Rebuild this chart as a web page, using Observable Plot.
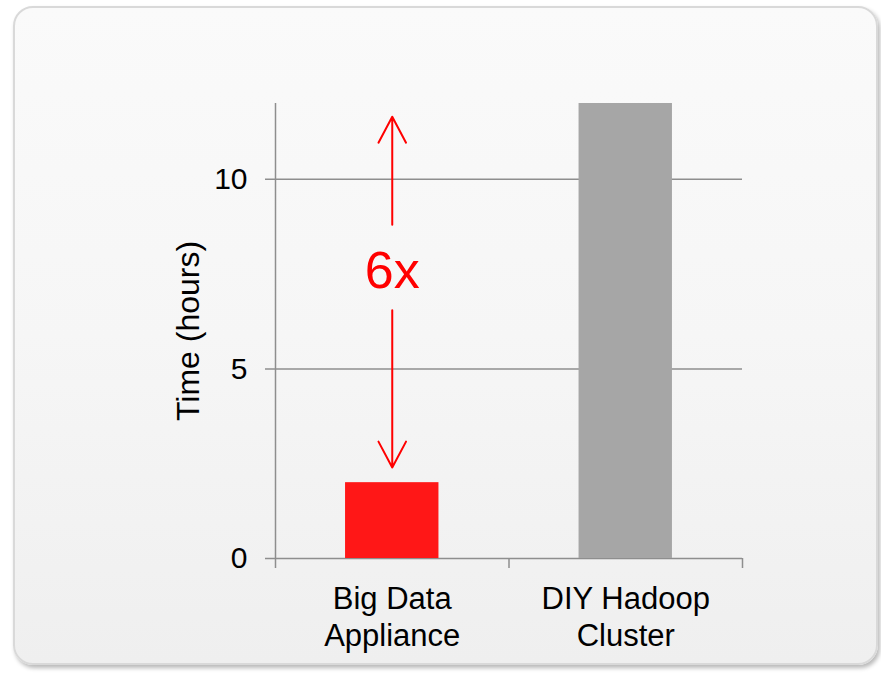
<!DOCTYPE html>
<html>
<head>
<meta charset="utf-8">
<script src="https://cdn.jsdelivr.net/npm/d3@7"></script>
<script src="https://cdn.jsdelivr.net/npm/@observablehq/plot@0.6"></script>
<style>
  html, body { margin: 0; padding: 0; background: #ffffff; }
  #wrap { position: relative; width: 881px; height: 673px; overflow: hidden; }
  #card {
    position: absolute; left: 13px; top: 6px; width: 861px; height: 655px;
    border: 2px solid #d9d9d9; border-radius: 20px;
    background: linear-gradient(to bottom, #fafafa 0%, #f6f6f6 50%, #efefef 100%);
    box-shadow: 2px 3px 4px rgba(0, 0, 0, 0.28);
  }
  #chart { position: absolute; left: 0; top: 0; }
</style>
</head>
<body>
<div id="wrap">
  <div id="card"></div>
  <div id="chart"></div>
</div>
<script>
// Processing time of the same job on two platforms
const categories = ["Big Data\nAppliance", "DIY Hadoop\nCluster"];
const hours = [2, 12];
const barColors = ["#ff1717", "#a6a6a6"];
const yTicks = [0, 5, 10];

// the speed-up arrow between the two bar heights (hours)
const arrowUp = [{from: 8.8, to: 11.65}];
const arrowDown = [{from: 6.55, to: 2.4}];
const ratioLabelAt = 7.57;

const rows = categories.map((c, i) => ({category: c, hours: hours[i], color: barColors[i], pos: i + 0.5}));

const gridColor = "#8e8e8e";
const font = "'Liberation Sans', Arial, Helvetica, sans-serif";
const labelStyle = {fontSize: 30, fill: "#000", fontFamily: font, letterSpacing: "0.8px"};

const chart = Plot.plot({
  width: 881,
  height: 673,
  marginLeft: 275,
  marginRight: 139,
  marginTop: 103,
  marginBottom: 115,
  style: {background: "transparent", fontFamily: font, overflow: "visible"},
  x: {domain: [0, categories.length], axis: null},
  y: {domain: [0, 12], axis: null},
  marks: [
    // horizontal gridlines, extended left as tick marks
    Plot.ruleY(yTicks, {stroke: gridColor, strokeWidth: 1.5, insetLeft: -10}),
    // bars
    Plot.rectY(rows, {x1: d => d.pos - 0.2, x2: d => d.pos + 0.2, y1: 0, y2: "hours", fill: "color"}),
    // vertical axis line
    Plot.ruleX([0], {stroke: gridColor, strokeWidth: 1.5, insetBottom: -10}),
    // category separators below the baseline
    Plot.ruleX(d3.range(1, categories.length + 1), {y1: 0, y2: 0, stroke: gridColor, strokeWidth: 1.5, insetBottom: -10}),
    // y tick labels
    Plot.text(yTicks, {x: 0, y: d => d, dx: -28, textAnchor: "end", ...labelStyle}),
    // category labels
    Plot.text(rows, {x: "pos", y: 0, text: "category", dy: 24, lineAnchor: "top", lineHeight: 1.2, ...labelStyle, fontSize: 31, letterSpacing: "1.3px"}),
    // y axis title
    Plot.text(["Time (hours)"], {x: -0.373, frameAnchor: "middle", rotate: -90, fontSize: 32, fill: "#000", fontFamily: font}),
    // speed-up arrows and ratio label
    Plot.arrow(arrowUp, {x1: rows[0].pos, x2: rows[0].pos, y1: "from", y2: "to", stroke: "#ff0000", strokeWidth: 2, headLength: 22, headAngle: 56}),
    Plot.arrow(arrowDown, {x1: rows[0].pos, x2: rows[0].pos, y1: "from", y2: "to", stroke: "#ff0000", strokeWidth: 2, headLength: 22, headAngle: 56}),
    Plot.text([`${hours[1] / hours[0]}x`], {x: rows[0].pos, y: ratioLabelAt, fontSize: 52, fill: "#ff0000", fontFamily: font, letterSpacing: "1px"})
  ]
});

document.getElementById("chart").appendChild(chart);
</script>
</body>
</html>
